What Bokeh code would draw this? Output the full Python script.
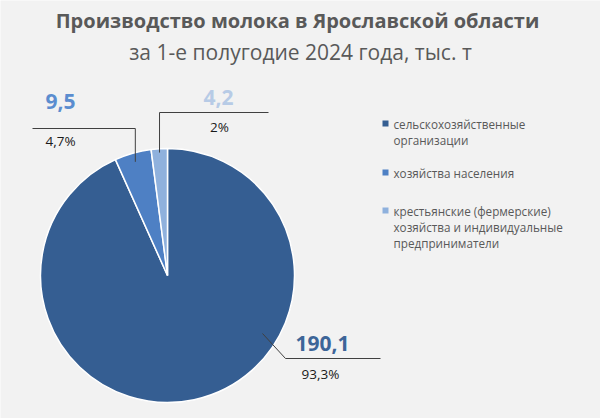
import math
from bokeh.plotting import figure
from bokeh.models import Range1d, ColumnDataSource
from bokeh.core.properties import value
from bokeh.embed import file_html
from bokeh.resources import INLINE

# ---- data ----
categories = [
    "сельскохозяйственные\nорганизации",
    "хозяйства населения",
    "крестьянские (фермерские)\nхозяйства и индивидуальные\nпредприниматели",
]
values = [190.1, 9.5, 4.2]
value_labels = ["190,1", "9,5", "4,2"]
percent_labels = ["93,3%", "4,7%", "2%"]
colors = ["#355E92", "#4E80C4", "#8FB1DD"]
label_colors = ["#3D6598", "#5B8DCF", "#B7CBE6"]

W, H = 600, 418
FONT = "Open Sans"
BG = "#F2F2F2"

def fy(ypix):
    return H - ypix

p = figure(width=W, height=H, output_backend="svg", toolbar_location=None,
           x_range=Range1d(0, W), y_range=Range1d(0, H), min_border=0)
p.axis.visible = False
p.grid.visible = False
p.outline_line_color = None
p.background_fill_color = BG
p.border_fill_color = BG

# ---- pie ----
cx, cy, r = 167, fy(275), 127
total = sum(values)
starts, ends, mids = [], [], []
cum = 0.0
for v in values:
    a0 = math.pi / 2 - cum / total * 2 * math.pi
    cum += v
    a1 = math.pi / 2 - cum / total * 2 * math.pi
    starts.append(a0)
    ends.append(a1)
    mids.append((a0 + a1) / 2)

src = ColumnDataSource(dict(start=starts, end=ends, color=colors))
p.wedge(x=cx, y=cy, radius=r, start_angle="start", end_angle="end",
        direction="clock", fill_color="color", line_color="white",
        line_width=1.5, source=src)

# ---- leader lines & labels ----
lc = "#404040"
a = mids[1]
ax, ay = cx + 0.93 * r * math.cos(a), cy + 0.93 * r * math.sin(a)
p.line([ax, ax, 32], [ay, fy(128), fy(128)], line_color=lc, line_width=1)
a = mids[2]
ax2, ay2 = cx + 0.97 * r * math.cos(a), cy + 0.97 * r * math.sin(a)
p.line([ax2, ax2, 268], [ay2, fy(112), fy(112)], line_color=lc, line_width=1)
p.line([262, 285, 380], [fy(333), fy(358), fy(358)], line_color=lc, line_width=1)

val_pos = [(322, fy(343)), (60, fy(101)), (218, fy(97))]
pct_pos = [(320, fy(373)), (60, fy(140)), (219, fy(126))]
for i in range(3):
    p.text(x=[val_pos[i][0]], y=[val_pos[i][1]], text=[value_labels[i]],
           text_font=value(FONT), text_font_style="bold", text_font_size="21px",
           text_color=label_colors[i], text_align="center", text_baseline="middle")
    p.text(x=[pct_pos[i][0]], y=[pct_pos[i][1]], text=[percent_labels[i]],
           text_font=value(FONT), text_font_size="13.5px",
           text_color="#1A1A1A", text_align="center", text_baseline="middle")

# ---- legend ----
leg_y = [123, 172, 210]
for i, cat in enumerate(categories):
    p.rect(x=[385], y=[fy(leg_y[i])], width=6, height=6,
           fill_color=colors[i], line_color=None)
    for j, line in enumerate(cat.split("\n")):
        p.text(x=[393], y=[fy(leg_y[i] + 16 * j)], text=[line],
               text_font=value(FONT), text_font_size="11.7px",
               text_color="#595959", text_align="left", text_baseline="middle")

# ---- titles ----
p.text(x=[297], y=[fy(20)], text=["Производство молока в Ярославской области"],
       text_font=value(FONT), text_font_style="bold", text_font_size="20px",
       text_color="#595959", text_align="center", text_baseline="middle")
p.text(x=[300], y=[fy(51)], text=["за 1-е полугодие 2024 года, тыс. т"],
       text_font=value(FONT), text_font_size="21px",
       text_color="#595959", text_align="center", text_baseline="middle")

open("out.html", "w").write(file_html(p, INLINE))
